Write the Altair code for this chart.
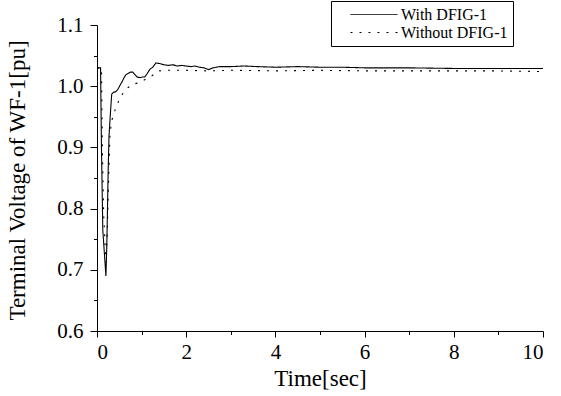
import altair as alt
import pandas as pd

series_names = ["With DFIG-1", "Without DFIG-1"]

t_with = [0.0, 0.08, 0.10, 0.13, 0.20, 0.22, 0.25, 0.27, 0.30, 0.33, 0.37, 0.42, 0.47,
          0.52, 0.56, 0.60, 0.65, 0.70, 0.75, 0.80, 0.85, 0.90, 0.96, 1.02, 1.07, 1.12,
          1.19, 1.25, 1.32, 1.40, 1.50, 1.60, 1.70, 1.80, 1.90, 2.00, 2.10, 2.20, 2.30,
          2.40, 2.50, 2.60, 2.75, 3.00, 3.30, 3.60, 4.00, 4.50, 5.00, 5.50, 6.00, 7.00,
          8.00, 9.00, 10.0]
v_with = [1.030, 1.030, 0.900, 0.765, 0.690, 0.740, 0.860, 0.920, 0.955, 0.987, 0.990, 0.991, 0.995,
          1.002, 1.007, 1.013, 1.019, 1.021, 1.023, 1.023, 1.019, 1.015, 1.014, 1.015, 1.015, 1.020,
          1.028, 1.031, 1.038, 1.037, 1.035, 1.034, 1.035, 1.033, 1.034, 1.033, 1.032, 1.033, 1.031,
          1.030, 1.027, 1.030, 1.032, 1.032, 1.033, 1.032, 1.031, 1.032, 1.031, 1.031, 1.030, 1.030,
          1.029, 1.029, 1.029]

t_without = [0.0, 0.10, 0.12, 0.15, 0.20, 0.23, 0.25, 0.27, 0.29, 0.32, 0.36, 0.40, 0.45,
             0.50, 0.55, 0.62, 0.70, 0.80, 0.90, 1.00, 1.10, 1.20, 1.30, 1.40, 1.50, 1.70,
             2.00, 2.50, 3.00, 4.00, 5.00, 6.00, 7.00, 8.00, 9.00, 10.0]
v_without = [1.030, 1.030, 0.900, 0.790, 0.712, 0.760, 0.820, 0.870, 0.920, 0.940, 0.952, 0.960, 0.970,
             0.978, 0.985, 0.992, 0.998, 1.003, 1.005, 1.008, 1.012, 1.015, 1.021, 1.025, 1.026, 1.026,
             1.026, 1.025, 1.026, 1.025, 1.026, 1.025, 1.025, 1.025, 1.025, 1.024]

x_ticks = [0, 1, 2, 3, 4, 5, 6, 7, 8, 9, 10]
y_ticks = [0.6, 0.65, 0.7, 0.75, 0.8, 0.85, 0.9, 0.95, 1.0, 1.05, 1.1]

df = pd.concat([
    pd.DataFrame({"t": t_with, "v": v_with, "series": series_names[0]}),
    pd.DataFrame({"t": t_without, "v": v_without, "series": series_names[1]}),
], ignore_index=True)

FONT = "Liberation Serif"

chart = alt.Chart(df).mark_line(color="black", strokeWidth=1.1).encode(
    x=alt.X("t:Q",
            scale=alt.Scale(domain=[0, 10], nice=False, zero=False),
            axis=alt.Axis(values=x_ticks, format="d", title="Time[sec]",
                          labelExpr="datum.value % 2 === 0 ? datum.label : ''",
                          tickSize={"condition": {"test": "datum.value % 2 === 0", "value": 6}, "value": 3.5},
                          labelPadding=4, labelBaseline="top",
                          titleY=54, titleBaseline="alphabetic")),
    y=alt.Y("v:Q",
            scale=alt.Scale(domain=[0.6, 1.1], nice=False, zero=False),
            axis=alt.Axis(values=y_ticks, format=".1f", title="Terminal Voltage of WF-1[pu]",
                          labelExpr="round(datum.value * 100) % 10 === 0 ? datum.label : ''",
                          tickSize={"condition": {"test": "round(datum.value * 100) % 10 === 0", "value": 7}, "value": 3.5},
                          labelPadding=7,
                          titleX=-73, titleY=155, titleBaseline="alphabetic", titleAlign="center")),
    strokeDash=alt.StrokeDash("series:N",
                              scale=alt.Scale(domain=series_names, range=[[1, 0], [2, 7]]),
                              legend=alt.Legend(title=None, orient="none", legendX=234, legendY=-24,
                                                strokeColor="black", fillColor="white", padding=5,
                                                symbolType="M-2.94,0H2.94", symbolSize=256,
                                                symbolStrokeWidth=1, symbolStrokeColor="black",
                                                symbolOffset=29.5, labelOffset=18.5, rowPadding=1,
                                                labelFont=FONT, labelFontSize=16, labelColor="black",
                                                labelExpr="datum.label + '\u00a0\u00a0\u00a0\u00a0\u00a0\u00a0\u00a0\u00a0'")),
).properties(
    width=446, height=306,
    padding={"left": 97, "top": 25, "right": 18, "bottom": 65},
    autosize="none",
    background="white",
).configure_view(stroke=None).configure_axis(
    grid=False, domainColor="black", domainWidth=1, tickColor="black", tickWidth=1,
    labelFont=FONT, labelFontSize=21, labelColor="black",
    titleFont=FONT, titleFontSize=23, titleFontWeight="normal", titleColor="black",
)

chart.save("out.html", embed_options={"renderer": "svg", "actions": False})
